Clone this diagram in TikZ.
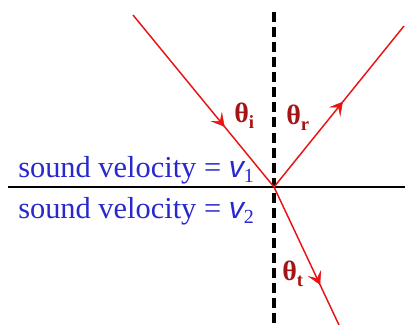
\documentclass[tikz,border=0pt]{standalone}
\usepackage{fontspec}
\setmainfont{Liberation Serif}
\newfontfamily\arialf{Liberation Sans}
\usetikzlibrary{arrows.meta,decorations.markings}
\definecolor{rayred}{RGB}{232,20,20}
\definecolor{angred}{RGB}{165,20,20}
\definecolor{txtblue}{RGB}{40,40,205}
\newcommand{\mysub}[2]{\raisebox{-#2}{\rmfamily\fontsize{15}{17}\selectfont #1}}
\newcommand{\angsub}[1]{\raisebox{-5pt}{\fontsize{14}{16}\selectfont\bfseries #1}}
\tikzset{
  ray/.style={draw=rayred, line width=1.1pt},
  midarrow/.style={postaction={decorate,decoration={markings,
     mark=at position #1 with {\arrow{Stealth[length=10pt,width=11pt,inset=4.5pt,line width=0.4pt]}}}}},
  veltext/.style={anchor=base west, inner sep=0pt, text=txtblue, font=\fontsize{22.8}{26}\selectfont},
  angtext/.style={anchor=base west, inner sep=0pt, text=angred, font=\bfseries\fontsize{21}{24}\selectfont},
}
\begin{document}
\begin{tikzpicture}[x=0.75pt,y=-0.75pt]
\useasboundingbox (0,0) rectangle (405,325);
\coordinate (O) at (274,187);
\coordinate (L) at (8,187);
\coordinate (R) at (405,187);
\coordinate (T) at (274,12);
\coordinate (B) at (274,325);
\coordinate (I) at (133,15);
\coordinate (Rf) at (404,26);
\coordinate (Tr) at (339,325);
\draw[line width=1.8pt, black] (L) -- (R);
\draw[line width=2.8pt, black, dash pattern=on 7.5pt off 3.8pt] (T) -- (B);
\draw[ray, midarrow=0.65] (I) -- (O);
\draw[ray, midarrow=0.53] (O) -- (Rf);
\draw[ray, midarrow=0.71] (O) -- (Tr);
\node[veltext] (v1) at (18,177) {sound velocity = {\arialf\itshape v}\mysub{1}{4pt}};
\node[veltext] (v2) at (18,218) {sound velocity = {\arialf\itshape v}\mysub{2}{4pt}};
\node[angtext] (ti) at (234,122) {θ\angsub{i}};
\node[angtext] (tr) at (286,124) {θ\angsub{r}};
\node[angtext] (tt) at (282,280) {θ\angsub{t}};
\end{tikzpicture}
\end{document}
